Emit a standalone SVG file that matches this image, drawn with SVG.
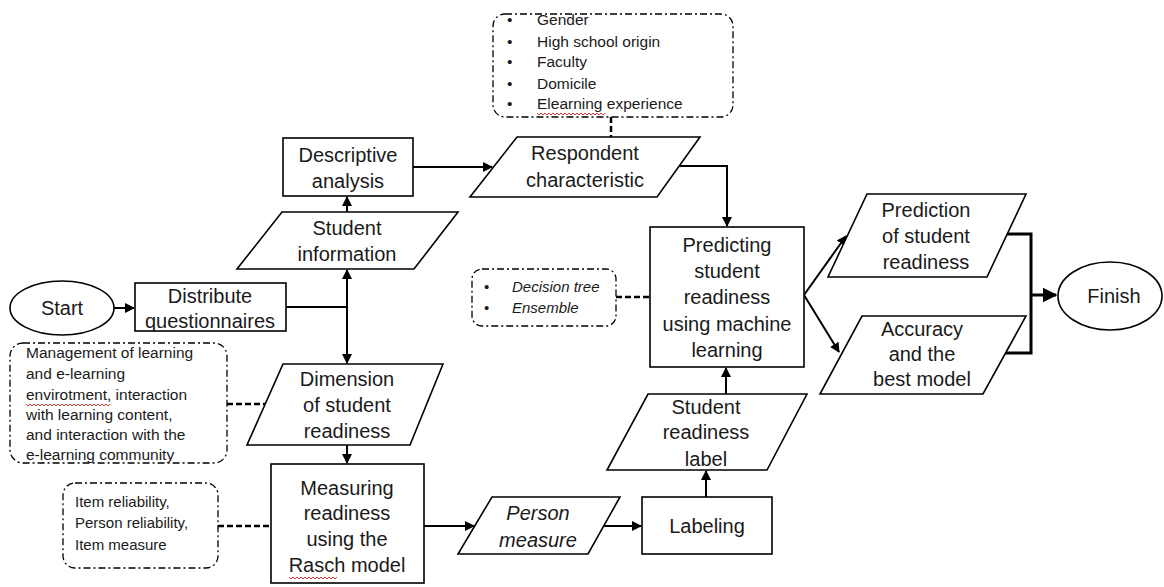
<svg xmlns="http://www.w3.org/2000/svg" width="1164" height="587" viewBox="0 0 1164 587">
<style>
  .shape { fill: #ffffff; stroke: #000000; stroke-width: 1.6; }
  .note { fill: #ffffff; stroke: #000000; stroke-width: 1.3; stroke-dasharray: 7 3 2 3; }
  .t { font-family: "Liberation Sans", Arial, sans-serif; font-size: 20px; fill: #1a1a1a; text-anchor: middle; }
  .s { font-family: "Liberation Sans", Arial, sans-serif; fill: #1a1a1a; }
  .it { font-style: italic; }
  .conn { fill: none; stroke: #000000; stroke-width: 2; }
  .thick { fill: none; stroke: #000000; stroke-width: 3; }
  .dash { fill: none; stroke: #000000; stroke-width: 2.5; stroke-dasharray: 6 3; }
  .wavy { fill: none; stroke: #d02020; stroke-width: 0.9; }
</style>
<defs>
  <marker id="arr" viewBox="0 0 10 10" refX="9" refY="5" markerWidth="5" markerHeight="5" orient="auto" markerUnits="strokeWidth">
    <path d="M0,0 L10,5 L0,10 z" fill="#000"/>
  </marker>
</defs>
<rect width="1164" height="587" fill="#ffffff"/>

<g id="connectors">
  <line class="conn" x1="114" y1="308" x2="134" y2="308" marker-end="url(#arr)"/>
  <polyline class="conn" points="286,307 347,307"/>
  <line class="conn" x1="347" y1="307" x2="347" y2="270" marker-end="url(#arr)"/>
  <line class="conn" x1="347" y1="307" x2="347" y2="363" marker-end="url(#arr)"/>
  <line class="conn" x1="347" y1="212" x2="347" y2="197" marker-end="url(#arr)"/>
  <line class="conn" x1="413" y1="167" x2="492" y2="167" marker-end="url(#arr)"/>
  <line class="conn" x1="347" y1="445" x2="347" y2="463" marker-end="url(#arr)"/>
  <line class="conn" x1="424" y1="526" x2="474" y2="526" marker-end="url(#arr)"/>
  <line class="conn" x1="604" y1="526" x2="641" y2="526" marker-end="url(#arr)"/>
  <line class="conn" x1="706" y1="497" x2="706" y2="471" marker-end="url(#arr)"/>
  <line class="conn" x1="726" y1="394" x2="726" y2="368" marker-end="url(#arr)"/>
  <polyline class="conn" points="679,166 727,166 727,226" marker-end="url(#arr)"/>
  <line class="conn" x1="804" y1="295" x2="846" y2="236" marker-end="url(#arr)"/>
  <line class="conn" x1="804" y1="295" x2="839" y2="352" marker-end="url(#arr)"/>
  <polyline class="thick" points="1005,234 1031,234 1031,353 1004,353"/>
  <line class="thick" x1="1031" y1="295" x2="1056" y2="295" marker-end="url(#arr)"/>
  <line class="dash" x1="611" y1="117" x2="611" y2="137"/>
  <line class="dash" x1="227" y1="404" x2="265" y2="404"/>
  <line class="dash" x1="218" y1="526" x2="271" y2="526"/>
  <line class="dash" x1="616" y1="297" x2="650" y2="297"/>
</g>

<g id="start">
  <ellipse class="shape" cx="62" cy="308" rx="52" ry="27"/>
  <text class="t" x="62" y="315">Start</text>
</g>

<g id="distribute">
  <rect class="shape" x="135" y="283" width="151" height="48"/>
  <text class="t" x="210" y="303">Distribute</text>
  <text class="t" x="210" y="328">questionnaires</text>
</g>

<g id="student-information">
  <polygon class="shape" points="282,212 458,212 414,269 237,269"/>
  <text class="t" x="347" y="235">Student</text>
  <text class="t" x="347" y="261">information</text>
</g>

<g id="descriptive-analysis">
  <rect class="shape" x="283" y="138" width="130" height="58"/>
  <text class="t" x="348" y="162">Descriptive</text>
  <text class="t" x="348" y="188">analysis</text>
</g>

<g id="characteristics-note">
  <rect class="note" x="493" y="14" width="240" height="103" rx="12"/>
  <g class="s" font-size="15.5">
    <text x="507" y="25">•</text><text x="537" y="25">Gender</text>
    <text x="507" y="47">•</text><text x="537" y="47">High school origin</text>
    <text x="507" y="67">•</text><text x="537" y="67">Faculty</text>
    <text x="507" y="89">•</text><text x="537" y="89">Domicile</text>
    <text x="507" y="109">•</text><text x="537" y="109">Elearning experience</text>
  </g>
  <path class="wavy" d="M537,113 l2,2 l2,-2 l2,2 l2,-2 l2,2 l2,-2 l2,2 l2,-2 l2,2 l2,-2 l2,2 l2,-2 l2,2 l2,-2 l2,2 l2,-2 l2,2 l2,-2 l2,2 l2,-2 l2,2 l2,-2 l2,2 l2,-2 l2,2 l2,-2 l2,2 l2,-2 l2,2 l2,-2 l2,2 l2,-2 l2,2 l2,-2"/>
</g>

<g id="respondent-characteristic">
  <polygon class="shape" points="517,137 700,137 657,197 470,197"/>
  <text class="t" x="585" y="160">Respondent</text>
  <text class="t" x="585" y="187">characteristic</text>
</g>

<g id="dimension">
  <polygon class="shape" points="283,364 443,364 410,445 247,445"/>
  <text class="t" x="347" y="386">Dimension</text>
  <text class="t" x="347" y="412">of student</text>
  <text class="t" x="347" y="438">readiness</text>
</g>

<g id="dimension-note">
  <rect class="note" x="10" y="343" width="217" height="120" rx="13"/>
  <g class="s" font-size="15.5">
    <text x="26" y="358">Management of learning</text>
    <text x="26" y="379">and e-learning</text>
    <text x="26" y="400">envirotment, interaction</text>
    <text x="26" y="420">with learning content,</text>
    <text x="26" y="440">and interaction with the</text>
    <text x="26" y="460">e-learning community</text>
  </g>
  <path class="wavy" d="M26,404 l2,2 l2,-2 l2,2 l2,-2 l2,2 l2,-2 l2,2 l2,-2 l2,2 l2,-2 l2,2 l2,-2 l2,2 l2,-2 l2,2 l2,-2 l2,2 l2,-2 l2,2 l2,-2 l2,2 l2,-2 l2,2 l2,-2 l2,2 l2,-2 l2,2 l2,-2 l2,2 l2,-2 l2,2 l2,-2 l2,2 l2,-2 l2,2 l2,-2 l2,2 l2,-2 l2,2 l2,-2 l2,2 l2,-2"/>
</g>

<g id="measuring">
  <rect class="shape" x="271" y="464" width="153" height="119"/>
  <text class="t" x="347" y="495">Measuring</text>
  <text class="t" x="347" y="520">readiness</text>
  <text class="t" x="347" y="546">using the</text>
  <text class="t" x="347" y="572">Rasch model</text>
  <path class="wavy" d="M289,577 l2,2 l2,-2 l2,2 l2,-2 l2,2 l2,-2 l2,2 l2,-2 l2,2 l2,-2 l2,2 l2,-2 l2,2 l2,-2 l2,2 l2,-2 l2,2 l2,-2 l2,2 l2,-2 l2,2 l2,-2 l2,2 l2,-2"/>
</g>

<g id="measuring-note">
  <rect class="note" x="63" y="483" width="155" height="85" rx="12"/>
  <g class="s" font-size="15">
    <text x="75" y="507">Item reliability,</text>
    <text x="75" y="528">Person reliability,</text>
    <text x="75" y="550">Item measure</text>
  </g>
</g>

<g id="person-measure">
  <polygon class="shape" points="492,497 620,497 588,554 458,554"/>
  <text class="t it" x="538" y="520">Person</text>
  <text class="t it" x="538" y="547">measure</text>
</g>

<g id="labeling">
  <rect class="shape" x="642" y="497" width="130" height="57"/>
  <text class="t" x="707" y="533">Labeling</text>
</g>

<g id="student-readiness-label">
  <polygon class="shape" points="648,394 807,394 767,470 607,470"/>
  <text class="t" x="706" y="414">Student</text>
  <text class="t" x="706" y="439">readiness</text>
  <text class="t" x="706" y="466">label</text>
</g>

<g id="predicting">
  <rect class="shape" x="650" y="227" width="154" height="140"/>
  <text class="t" x="727" y="252">Predicting</text>
  <text class="t" x="727" y="278">student</text>
  <text class="t" x="727" y="304">readiness</text>
  <text class="t" x="727" y="331">using machine</text>
  <text class="t" x="727" y="357">learning</text>
</g>

<g id="model-note">
  <rect class="note" x="472" y="269" width="144" height="57" rx="10"/>
  <g class="s it" font-size="15">
    <text x="484" y="292" font-style="normal">•</text><text x="512" y="292">Decision tree</text>
    <text x="484" y="313" font-style="normal">•</text><text x="512" y="313">Ensemble</text>
  </g>
</g>

<g id="prediction">
  <polygon class="shape" points="867,194 1026,194 987,277 828,277"/>
  <text class="t" x="926" y="217">Prediction</text>
  <text class="t" x="926" y="243">of student</text>
  <text class="t" x="926" y="269">readiness</text>
</g>

<g id="accuracy">
  <polygon class="shape" points="862,316 1026,316 983,394 820,394"/>
  <text class="t" x="922" y="336">Accuracy</text>
  <text class="t" x="922" y="361">and the</text>
  <text class="t" x="922" y="386">best model</text>
</g>

<g id="finish">
  <ellipse class="shape" cx="1110" cy="296" rx="52" ry="34"/>
  <text class="t" x="1114" y="303">Finish</text>
</g>
</svg>
